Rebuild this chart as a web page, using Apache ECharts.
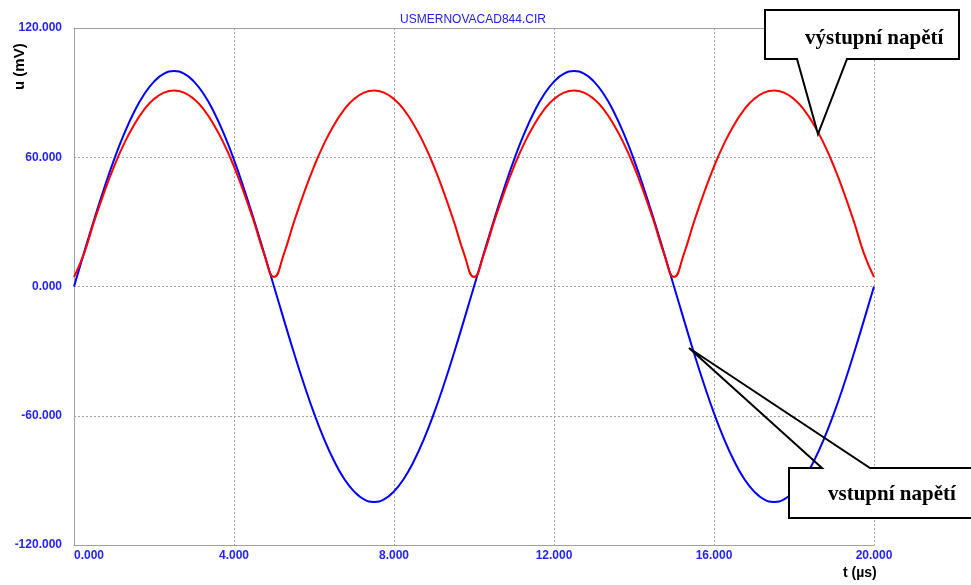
<!DOCTYPE html>
<html>
<head>
<meta charset="utf-8">
<script src="https://cdn.jsdelivr.net/npm/echarts@6/dist/echarts.min.js"></script>
<style>html,body{margin:0;padding:0;background:#fff}#c{width:971px;height:585px}</style>
</head>
<body>
<div id="c"></div>
<script>
var title = 'USMERNOVACAD844.CIR';
var yTicks = [-120, -60, 0, 60, 120];
var xTicks = [0, 4, 8, 12, 16, 20];
var tVals = [0,0.25,0.5,0.75,1,1.25,1.5,1.75,2,2.25,2.5,2.75,3,3.25,3.5,3.75,4,4.25,4.5,4.75,
  5,5.25,5.5,5.75,6,6.25,6.5,6.75,7,7.25,7.5,7.75,8,8.25,8.5,8.75,9,9.25,9.5,9.75,
  10,10.25,10.5,10.75,11,11.25,11.5,11.75,12,12.25,12.5,12.75,13,13.25,13.5,13.75,14,14.25,14.5,14.75,
  15,15.25,15.5,15.75,16,16.25,16.5,16.75,17,17.25,17.5,17.75,18,18.25,18.5,18.75,19,19.25,19.5,19.75,20];
var vstup = [0,15.6,30.9,45.4,58.8,70.7,80.9,89.1,95.1,98.8,100,98.8,95.1,89.1,80.9,70.7,58.8,45.4,30.9,15.6,
  0,-15.6,-30.9,-45.4,-58.8,-70.7,-80.9,-89.1,-95.1,-98.8,-100,-98.8,-95.1,-89.1,-80.9,-70.7,-58.8,-45.4,-30.9,-15.6,
  0,15.6,30.9,45.4,58.8,70.7,80.9,89.1,95.1,98.8,100,98.8,95.1,89.1,80.9,70.7,58.8,45.4,30.9,15.6,
  0,-15.6,-30.9,-45.4,-58.8,-70.7,-80.9,-89.1,-95.1,-98.8,-100,-98.8,-95.1,-89.1,-80.9,-70.7,-58.8,-45.4,-30.9,-15.6,0];
var vystup = [4.4,15.3,30.0,43.5,55.7,66.2,75.0,82.0,87.0,90.0,91,90.0,87.0,82.0,75.0,66.2,55.7,43.5,30.0,15.3,
  4.4,15.3,30.0,43.5,55.7,66.2,75.0,82.0,87.0,90.0,91,90.0,87.0,82.0,75.0,66.2,55.7,43.5,30.0,15.3,
  4.4,15.3,30.0,43.5,55.7,66.2,75.0,82.0,87.0,90.0,91,90.0,87.0,82.0,75.0,66.2,55.7,43.5,30.0,15.3,
  4.4,15.3,30.0,43.5,55.7,66.2,75.0,82.0,87.0,90.0,91,90.0,87.0,82.0,75.0,66.2,55.7,43.5,30.0,15.3,4.4];

function pairs(xs, ys){ return xs.map(function(x,i){return [x, ys[i]];}); }

var chart = echarts.init(document.getElementById('c'), null, {renderer:'canvas'});
var gridC = '#a0a0a0';
var lblBlue = '#2323ff';
chart.setOption({
  animation: false,
  backgroundColor: '#fff',
  grid: {left: 74, right: 97, top: 28, bottom: 40, containLabel: false},
  xAxis: [{
    type: 'value', min: 0, max: 20, interval: 4,
    axisLine: {show: true, onZero: false, lineStyle: {color: gridC, width: 1}},
    axisTick: {show: false},
    splitLine: {show: true, lineStyle: {color: gridC, type: [2, 2], width: 1}},
    axisLabel: {
      color: lblBlue, fontSize: 12, fontWeight: 'bold', fontFamily: 'Liberation Sans', margin: 5,
      alignMinLabel: 'left',
      formatter: function(v){ return v.toFixed(3); }
    }
  }, {
    type: 'value', min: 0, max: 20, position: 'top',
    axisLine: {show: true, onZero: false, lineStyle: {color: gridC, width: 1}},
    axisTick: {show: false}, axisLabel: {show: false}, splitLine: {show: false}
  }],
  yAxis: {
    type: 'value', min: -120, max: 120, interval: 60,
    axisLine: {show: true, onZero: false, lineStyle: {color: gridC, width: 1}},
    axisTick: {show: false},
    splitLine: {show: true, lineStyle: {color: gridC, type: [2, 2], width: 1}},
    axisLabel: {
      color: lblBlue, fontSize: 12, fontWeight: 'bold', fontFamily: 'Liberation Sans', margin: 12,
      formatter: function(v){ return v.toFixed(3); }
    }
  },
  series: [{
    name: 'vstupní napětí', type: 'line', data: pairs(tVals, vstup), smooth: 0.5,
    showSymbol: false, lineStyle: {color: '#0000ff', width: 2}, itemStyle: {color: '#0000ff'}
  }, {
    name: 'výstupní napětí', type: 'line', data: pairs(tVals, vystup), smooth: 0.5,
    showSymbol: false, lineStyle: {color: '#ff0000', width: 2}, itemStyle: {color: '#ff0000'}
  }],
  graphic: [
    {type: 'text', x: 473, y: 20, style: {text: title, fill: '#2020e8', font: '12px "Liberation Sans"', textAlign: 'center', textVerticalAlign: 'middle'}},
    {type: 'text', rotation: Math.PI/2, x: 12, y: 90, style: {text: 'u (mV)', x: 0, y: 0, fill: '#000', font: 'bold 15px "Liberation Sans"'}},
    {type: 'text', x: 843, y: 566, style: {text: 't (µs)', fill: '#000', font: 'bold 14px "Liberation Sans"'}},
    {type: 'polygon', z: 100, shape: {points: [[765,10],[959,10],[959,59],[847,59],[818,134],[797,59],[765,59]]},
      style: {fill: '#fff', stroke: '#000', lineWidth: 2}},
    {type: 'text', z: 101, x: 805, y: 39, style: {text: 'výstupní napětí', fill: '#000', font: 'bold 21px "Liberation Serif"', textVerticalAlign: 'middle'}},
    {type: 'rect', z: 100, shape: {x: 789, y: 468, width: 190, height: 50}, style: {fill: '#fff', stroke: null}},
    {type: 'polyline', z: 101, shape: {points: [[975,468],[870,468],[689,348],[822,468],[789,468],[789,518],[975,518]]},
      style: {fill: null, stroke: '#000', lineWidth: 2}},
    {type: 'text', z: 101, x: 828, y: 495, style: {text: 'vstupní napětí', fill: '#000', font: 'bold 21px "Liberation Serif"', textVerticalAlign: 'middle'}}
  ]
});
</script>
</body>
</html>
